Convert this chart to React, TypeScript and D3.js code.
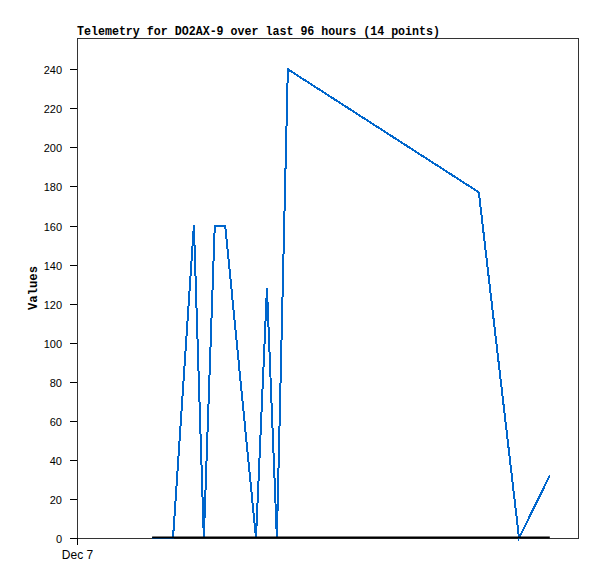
import React, { useRef, useEffect } from 'react';
import * as d3 from 'd3';

const W = 597;
const H = 579;

// hours after Dec 7 00:00 for each telemetry point
const hours = [14.4, 16.4, 18.4, 22.4, 24.3, 26.4, 28.4, 34.3, 36.4, 38.3, 40.4, 77.0, 84.7, 90.6];
const values = [0, 0, 0, 160, 0, 160, 160, 0, 128, 0, 240, 177, 0, 32];
const yTicks = [0, 20, 40, 60, 80, 100, 120, 140, 160, 180, 200, 220, 240];
const xTickLabels = ['Dec 7'];

const start = new Date(2023, 11, 7, 0, 0);
const end = new Date(2023, 11, 11, 0, 0);

const MONO = '"Liberation Mono", "DejaVu Sans Mono", monospace';
const SANS = '"Liberation Sans", Arial, sans-serif';

const App = () => {
  const svgRef = useRef<SVGSVGElement>(null);

  useEffect(() => {
    if (!svgRef.current) return;
    const svg = d3.select(svgRef.current);
    svg.selectAll('*').remove();

    const left = 77, right = 578, top = 38, bottom = 538;

    const x = d3.scaleTime().domain([start, end]).range([left, right]);
    const y = d3.scaleLinear().domain([0, 256]).range([bottom, top]);

    const pts = hours.map((h, i) => ({
      t: new Date(start.getTime() + h * 3600 * 1000),
      v: values[i]
    }));

    svg.append('rect').attr('width', W).attr('height', H).attr('fill', 'white');

    // frame
    svg.append('rect')
      .attr('x', left + 0.5).attr('y', top + 0.5)
      .attr('width', right - left).attr('height', bottom - top)
      .attr('fill', 'none').attr('stroke', '#333').attr('stroke-width', 1);

    // title
    svg.append('text')
      .attr('x', left).attr('y', 35)
      .attr('font-family', MONO)
      .attr('font-weight', 'bold').attr('font-size', '12px')
      .attr('textLength', 363).attr('lengthAdjust', 'spacingAndGlyphs')
      .attr('fill', '#000')
      .text('Telemetry for DO2AX-9 over last 96 hours (14 points)');

    // y axis
    const yg = svg.append('g');
    yTicks.forEach(t => {
      const yy = Math.round(y(t)) + 0.5;
      yg.append('line').attr('x1', 70).attr('x2', left).attr('y1', yy).attr('y2', yy)
        .attr('stroke', '#000').attr('stroke-width', 1);
      yg.append('text').attr('x', 62).attr('y', yy + 4)
        .attr('text-anchor', 'end')
        .attr('font-family', SANS)
        .attr('font-size', '11px').attr('fill', '#000')
        .text(String(t));
    });

    svg.append('text')
      .attr('transform', `translate(37,288) rotate(-90)`)
      .attr('text-anchor', 'middle')
      .attr('font-family', MONO)
      .attr('font-weight', 'bold').attr('font-size', '12px')
      .attr('textLength', 44).attr('lengthAdjust', 'spacingAndGlyphs')
      .attr('fill', '#000')
      .text('Values');

    // x axis tick
    xTickLabels.forEach(lbl => {
      const xx = Math.round(x(start)) + 0.5;
      svg.append('line').attr('x1', xx).attr('x2', xx).attr('y1', bottom).attr('y2', bottom + 7)
        .attr('stroke', '#000');
      svg.append('text').attr('x', xx).attr('y', 559)
        .attr('text-anchor', 'middle')
        .attr('font-family', SANS)
        .attr('font-size', '12px').attr('fill', '#000')
        .text(lbl);
    });

    const line = d3.line<{ t: Date; v: number }>()
      .x(d => x(d.t))
      .y(d => y(d.v));

    svg.append('path')
      .datum(pts)
      .attr('d', line)
      .attr('fill', 'none')
      .attr('stroke', '#0066cc')
      .attr('stroke-width', 2)
      .attr('shape-rendering', 'crispEdges');

    // zero baseline over the span of the data
    svg.append('line')
      .attr('x1', x(pts[0].t)).attr('x2', x(pts[pts.length - 1].t))
      .attr('y1', bottom - 0.5).attr('y2', bottom - 0.5)
      .attr('stroke', '#000').attr('stroke-width', 2);
  }, []);

  return (
    <svg ref={svgRef} width={W} height={H} style={{ position: 'absolute', left: 0, top: 0 }} />
  );
};

export default App;
